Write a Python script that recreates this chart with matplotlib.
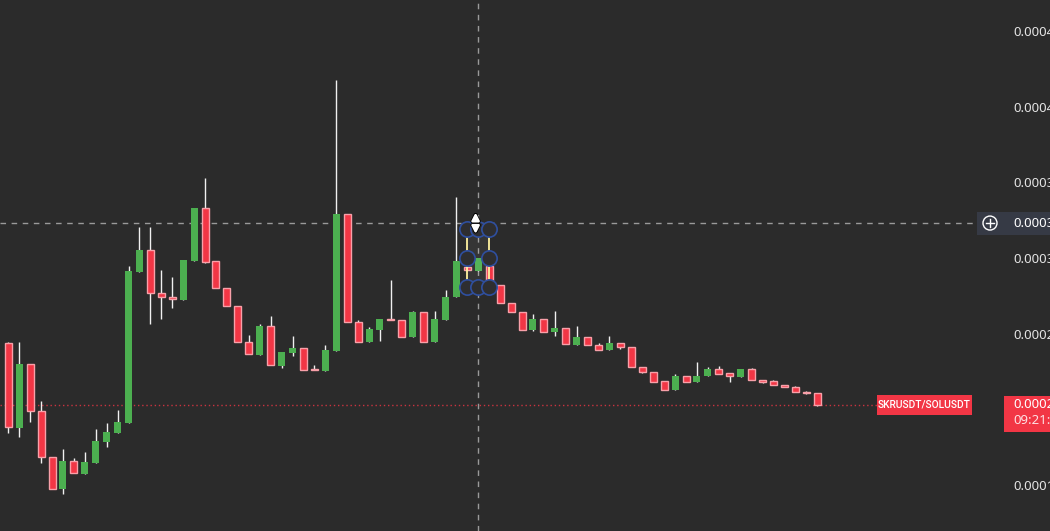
import numpy as np
import matplotlib
matplotlib.use('Agg')
import matplotlib.pyplot as plt
from matplotlib.patches import Rectangle, Circle
from matplotlib.lines import Line2D
from matplotlib.transforms import IdentityTransform
import matplotlib.patheffects as pe

plt.rcParams['font.family'] = ['Noto Sans', 'DejaVu Sans']

# SKRUSDT/SOLUSDT candles, prices in units of 1e-6
opens = np.array([243.8, 187.9, 229.8, 198.7, 168.3, 147.2, 165.7, 157.3, 164.7, 178.4,
                  184.6, 191.2, 291.0, 305.3, 276.7, 274.0, 272.2, 298.2, 333.0, 298.0,
                  280.0, 268.1, 244.3, 236.1, 254.9, 228.8, 237.4, 240.3, 226.4, 225.5,
                  238.7, 328.9, 257.5, 244.7, 252.6, 259.5, 259.0, 248.0, 264.1, 244.7,
                  259.2, 274.0, 294.3, 291.6, 294.9, 282.2, 270.1, 264.1, 252.6, 259.5,
                  250.9, 253.5, 242.7, 247.6, 242.3, 239.0, 243.6, 241.0, 227.8, 224.5,
                  218.5, 213.0, 221.8, 218.3, 221.8, 226.4, 223.8, 221.6, 226.4, 219.2,
                  218.5, 215.9, 214.6, 211.5, 210.8]) * 1e-6
highs = np.array([244.5, 244.5, 229.8, 205.5, 168.7, 173.8, 167.8, 171.8, 187.0, 191.0,
                  199.6, 294.7, 320.5, 320.5, 292.1, 287.2, 298.7, 333.0, 352.9, 298.0,
                  280.0, 268.1, 249.1, 256.4, 261.7, 237.7, 248.5, 240.3, 229.3, 242.3,
                  417.6, 328.9, 259.0, 254.6, 259.7, 285.5, 259.0, 265.2, 264.1, 265.2,
                  278.9, 340.5, 294.3, 299.8, 294.9, 282.2, 270.1, 264.1, 262.8, 259.5,
                  265.2, 253.5, 255.1, 247.6, 243.8, 248.7, 243.6, 241.0, 227.8, 224.5,
                  218.5, 223.3, 221.8, 231.3, 228.0, 228.6, 223.8, 226.4, 227.3, 219.2,
                  219.2, 215.9, 215.4, 212.3, 210.8]) * 1e-6
lows = np.array([184.6, 181.5, 191.8, 164.3, 147.2, 143.8, 157.7, 157.3, 164.7, 175.3,
                 184.6, 191.2, 291.0, 256.4, 259.9, 267.2, 272.2, 298.2, 296.9, 280.0,
                 268.1, 244.3, 236.4, 236.1, 229.1, 227.5, 235.4, 225.8, 225.8, 225.5,
                 238.7, 257.5, 244.7, 244.7, 245.3, 258.8, 248.0, 248.0, 244.7, 244.7,
                 259.2, 274.0, 291.9, 291.6, 284.5, 270.1, 264.1, 252.6, 252.0, 250.9,
                 248.7, 243.2, 242.7, 242.3, 239.0, 239.0, 239.7, 227.8, 223.8, 218.3,
                 213.0, 213.0, 218.3, 218.3, 221.8, 223.5, 218.1, 221.6, 219.2, 217.6,
                 215.9, 214.6, 211.3, 210.3, 202.0]) * 1e-6
closes = np.array([188.1, 230.0, 198.7, 168.3, 147.2, 165.9, 157.7, 165.0, 179.1, 185.0,
                   191.6, 291.4, 305.3, 276.7, 274.0, 272.7, 298.7, 333.0, 297.6, 280.0,
                   268.1, 244.3, 236.4, 255.1, 229.1, 237.7, 240.3, 225.8, 225.8, 239.2,
                   328.9, 257.5, 244.7, 253.1, 259.7, 258.8, 248.0, 264.5, 244.7, 259.7,
                   274.2, 298.0, 291.9, 299.8, 284.5, 270.1, 264.1, 252.6, 259.5, 250.9,
                   253.7, 243.2, 247.6, 242.3, 239.0, 243.8, 241.0, 227.8, 224.5, 218.3,
                   213.0, 222.0, 218.3, 221.8, 226.4, 223.5, 221.8, 226.4, 219.2, 218.3,
                   215.9, 214.6, 211.3, 211.1, 202.9]) * 1e-6

# 0.0002 sits under the last-price label, so it is not shown
price_ticks = [0.00015, 0.00025, 0.0003, 0.00035, 0.0004, 0.00045]
symbol = "SKRUSDT/SOLUSDT"
countdown = "09:21:37"
cross_x = 43
cross_y = 323.1e-6
# drawn rectangle (selected) on the chart
rect_x = (42, 44)
rect_y = (280.8e-6, 319.2e-6)

BG = '#2b2b2b'
GREEN = '#4caf50'
RED = '#f23645'
PINK = '#f8a0a9'
W, H = 1050, 531

fig = plt.figure(figsize=(W / 100, H / 100), dpi=100, facecolor=BG)
ax = fig.add_axes([0, 0, 1003 / W, 1])
ax.set_facecolor(BG)
for s in ax.spines.values():
    s.set_visible(False)

x = np.arange(len(opens))
up = closes >= opens
ax.vlines(x, lows, highs, color='#f0f0f0', lw=1, zorder=2)
ax.bar(x[up], (closes - opens)[up], bottom=opens[up], width=0.64,
       color=GREEN, zorder=3, linewidth=0)
ax.bar(x[~up], np.maximum((opens - closes)[~up], 0.5e-6), bottom=closes[~up], width=0.64,
       color=RED, edgecolor=PINK, linewidth=1, zorder=3)

ax.set_xlim(-0.76, 91.0)
ax.set_ylim(119.6e-6, 470.5e-6)
ax.set_xticks([])
ax.yaxis.tick_right()
ax.set_yticks(price_ticks)
ax.set_yticklabels(['{:.6f}'.format(v) for v in price_ticks])
ax.tick_params(axis='y', length=0, pad=7.2, labelcolor='#e4e4e4', labelsize=9.5)

# crosshair
ax.axvline(cross_x, color='#9a9a9a', ls=(0, (4, 4)), lw=1, zorder=1)
ax.axhline(cross_y, color='#9a9a9a', ls=(0, (4, 4)), lw=1, zorder=1, xmax=975 / 1003)

# last price line
ax.axhline(closes[-1], color=RED, ls=(0, (1, 2)), lw=1, zorder=1, xmax=877 / 1003, alpha=0.8)

# selected rectangle drawing
ax.add_patch(Rectangle((rect_x[0], rect_y[0]), rect_x[1] - rect_x[0], rect_y[1] - rect_y[0],
                       facecolor='white', alpha=0.05, edgecolor='none', zorder=4))
ax.vlines(rect_x, rect_y[0], rect_y[1], color='#fff2a0', lw=1.3, zorder=5)
mid_y = (rect_y[0] + rect_y[1]) / 2
mid_x = (rect_x[0] + rect_x[1]) / 2
hx = [rect_x[0], mid_x, rect_x[1], rect_x[0], rect_x[1], rect_x[0], mid_x, rect_x[1]]
hy = [rect_y[1], rect_y[1], rect_y[1], mid_y, mid_y, rect_y[0], rect_y[0], rect_y[0]]
ax.plot(hx, hy, 'o', ms=11, mfc='#2e2e30', mec='#2f4f9f', mew=1.2, zorder=6, ls='none')
arr = ax.annotate('', xy=(42.75, 332e-6), xytext=(42.75, 314e-6),
                  arrowprops=dict(arrowstyle='<|-|>', color='white', lw=1.8, mutation_scale=11),
                  zorder=7)
arr.arrow_patch.set_path_effects([pe.Stroke(linewidth=3, foreground='black'), pe.Normal()])

fig.canvas.draw()
def fig_y(v):
    return ax.transData.transform((0, v))[1]

# crosshair price label
cy = fig_y(cross_y)
fig.add_artist(Rectangle((977, cy - 11.5), 80, 23, facecolor='#363a45', edgecolor='none',
                         transform=IdentityTransform()))
fig.add_artist(Circle((990, cy), 7, facecolor='none', edgecolor='white', lw=1,
                      transform=IdentityTransform()))
fig.add_artist(Line2D([986, 994], [cy, cy], color='white', lw=1, transform=IdentityTransform()))
fig.add_artist(Line2D([990, 990], [cy - 4, cy + 4], color='white', lw=1, transform=IdentityTransform()))
fig.text(1013 / W, cy / H, '{:.6f}'.format(cross_y), color='white', fontsize=9.5,
         va='center', ha='left')

# last price labels
py = fig_y(closes[-1])
fig.add_artist(Rectangle((877, py - 10), 95, 20, facecolor=RED, edgecolor='none',
                         transform=IdentityTransform()))
fig.text(924.5 / W, py / H, symbol, color='white', fontsize=7.4, family='Roboto',
         weight='medium', va='center', ha='center')
fig.add_artist(Rectangle((1004, py - 27), 60, 36, facecolor=RED, edgecolor='none',
                         transform=IdentityTransform()))
fig.text(1013 / W, py / H, '{:.6f}'.format(closes[-1]), color='white', fontsize=9.5,
         va='center', ha='left')
fig.text(1013 / W, (py - 16) / H, countdown, color='#fde0e3', fontsize=9.5,
         va='center', ha='left')

fig.savefig('out.png', dpi=100, facecolor=BG)
